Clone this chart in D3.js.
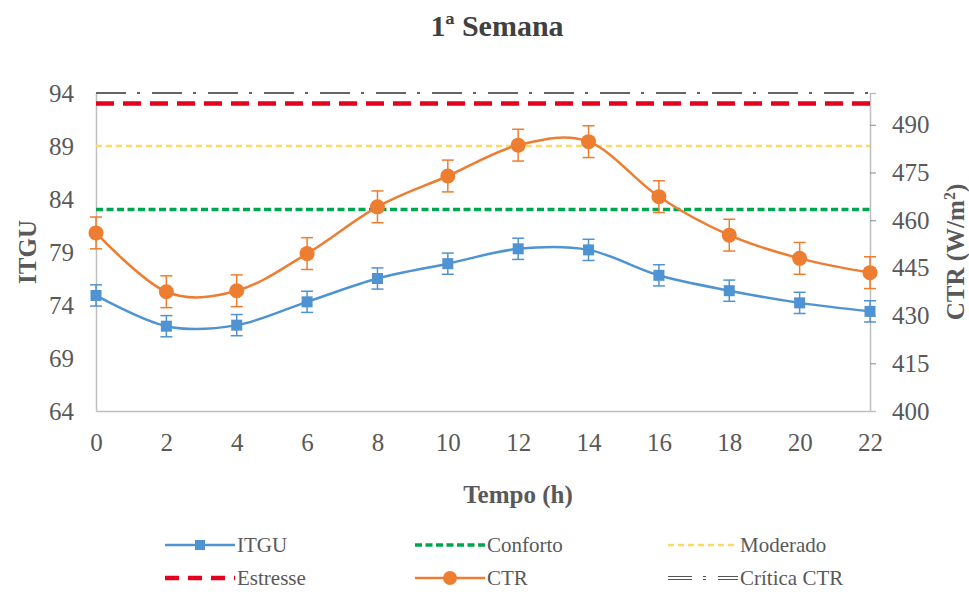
<!DOCTYPE html>
<html>
<head>
<meta charset="utf-8">
<script src="https://cdn.jsdelivr.net/npm/d3@7"></script>
<style>
  html, body { margin: 0; padding: 0; background: #fff; }
  svg { display: block; }
</style>
</head>
<body>
<svg id="chart" width="969" height="598"></svg>
<script>
// ---------- data ----------
const hours = ["0", "2", "4", "6", "8", "10", "12", "14", "16", "18", "20", "22"];
const itgu = [74.9, 72.0, 72.1, 74.3, 76.5, 77.9, 79.3, 79.2, 76.8, 75.35, 74.2, 73.4];
const itguErr = [1.0, 1.0, 1.0, 1.0, 1.0, 1.0, 1.0, 1.0, 1.0, 1.0, 1.0, 1.0];
const ctr = [456.0, 437.5, 437.8, 449.5, 464.2, 473.9, 483.6, 484.7, 467.4, 455.3, 448.0, 443.5];
const ctrErr = [5, 5, 5, 5, 5, 5, 5, 5, 5, 5, 5, 5];
const leftTicks = [64, 69, 74, 79, 84, 89, 94];
const rightTicks = [400, 415, 430, 445, 460, 475, 490];
const conforto = 83;
const moderado = 89;
const estresse = 93;
const criticaCTR = 500;

const FONT = "'Liberation Serif', 'DejaVu Serif', serif";
const svg = d3.select("#chart");
const X0 = 96, X1 = 870, YB = 411, YT = 93;
const textColor = "#595959";

const x = d3.scalePoint().domain(hours).range([X0, X1]);
const yL = d3.scaleLinear().domain([64, 94]).range([YB, YT]);
const yR = d3.scaleLinear().domain([400, 500]).range([YB, YT]);

// ---------- title ----------
svg.append("text").attr("x", 497).attr("y", 36).attr("text-anchor", "middle")
  .attr("font-size", 30).attr("font-weight", "bold").attr("fill", "#404040")
  .text("1ª Semana");

// ---------- axes ----------
const axisColor = "#BFBFBF";
const gL = svg.append("g").attr("transform", `translate(${X0},0)`)
  .call(d3.axisLeft(yL).tickValues(leftTicks).tickSize(0).tickPadding(22));
const gR = svg.append("g").attr("transform", `translate(${X1},0)`)
  .call(d3.axisRight(yR).tickValues(rightTicks).tickSize(6).tickPadding(16));
const gB = svg.append("g").attr("transform", `translate(0,${YB})`)
  .call(d3.axisBottom(x).tickSize(0).tickPadding(22));
[gL, gR, gB].forEach(g => {
  g.select(".domain").attr("stroke", axisColor).attr("stroke-width", 1.5);
  g.selectAll(".tick line").attr("stroke", "#9a9a9a").attr("stroke-width", 1.2);
  g.selectAll(".tick text").attr("fill", textColor).attr("font-size", 25);
});
gR.selectAll(".tick").filter(d => d === 400).select("line").remove();
gB.selectAll(".tick text").attr("dy", "0.71em");

// axis titles
svg.append("text").attr("transform", "translate(36,252) rotate(-90)")
  .attr("text-anchor", "middle").attr("font-size", 25).attr("font-weight", "bold")
  .attr("fill", textColor).text("ITGU");
const rt = svg.append("text").attr("transform", "translate(964,252) rotate(-90)")
  .attr("text-anchor", "middle").attr("font-size", 25).attr("font-weight", "bold")
  .attr("fill", textColor);
rt.append("tspan").text("CTR (W/m");
rt.append("tspan").attr("font-size", 16).attr("dy", -9).text("2");
rt.append("tspan").attr("dy", 9).text(")");
svg.append("text").attr("x", 518).attr("y", 503).attr("text-anchor", "middle")
  .attr("font-size", 25).attr("font-weight", "bold").attr("fill", textColor)
  .text("Tempo (h)");

// ---------- reference lines ----------
const refs = [
  { v: yL(conforto), color: "#00A64F", w: 3.5, dash: "7,3.5" },
  { v: yL(moderado), color: "#FFD966", w: 2.5, dash: "6,4" },
  { v: yL(estresse), color: "#E5001E", w: 4.5, dash: "18,9" }
];
refs.forEach(r => {
  svg.append("line").attr("x1", X0).attr("x2", X1).attr("y1", r.v).attr("y2", r.v)
    .attr("stroke", r.color).attr("stroke-width", r.w).attr("stroke-dasharray", r.dash);
});
// Crítica CTR (dash-dot)
svg.append("line").attr("x1", X0).attr("x2", X1)
  .attr("y1", yR(criticaCTR)).attr("y2", yR(criticaCTR))
  .attr("stroke", "#333").attr("stroke-width", 1.6).attr("stroke-dasharray", "30,11,3,12");

// ---------- series ----------
const curve = d3.curveCardinal.tension(0);
function drawSeries(vals, errs, yScale, color, marker) {
  const line = d3.line().x((d, i) => x(hours[i])).y(d => yScale(d)).curve(curve);
  svg.append("path").datum(vals).attr("d", line).attr("fill", "none")
    .attr("stroke", color).attr("stroke-width", 2.5);
  const g = svg.append("g");
  vals.forEach((v, i) => {
    const cx = x(hours[i]);
    const yt = yScale(v + errs[i]), yb = yScale(v - errs[i]);
    g.append("line").attr("x1", cx).attr("x2", cx).attr("y1", yt).attr("y2", yb)
      .attr("stroke", color).attr("stroke-width", 1.5);
    [yt, yb].forEach(yy => g.append("line").attr("x1", cx - 6).attr("x2", cx + 6)
      .attr("y1", yy).attr("y2", yy).attr("stroke", color).attr("stroke-width", 1.5));
    if (marker === "square") {
      g.append("rect").attr("x", cx - 5.5).attr("y", yScale(v) - 5.5)
        .attr("width", 11).attr("height", 11).attr("fill", color);
    } else {
      g.append("circle").attr("cx", cx).attr("cy", yScale(v)).attr("r", 7.5).attr("fill", color);
    }
  });
}
const blue = "#4F93D2", orange = "#ED7D31";
drawSeries(itgu, itguErr, yL, blue, "square");
drawSeries(ctr, ctrErr, yR, orange, "circle");

// ---------- legend ----------
const legend = [
  { name: "ITGU", x: 165, y: 545, type: "square", color: blue },
  { name: "Conforto", x: 415, y: 545, type: "dash", color: "#00A64F", w: 3.5, dash: "7,3.5" },
  { name: "Moderado", x: 668, y: 545, type: "dash", color: "#FFD966", w: 2.5, dash: "6,4" },
  { name: "Estresse", x: 165, y: 578, type: "dash", color: "#E5001E", w: 4.5, dash: "14,9" },
  { name: "CTR", x: 415, y: 578, type: "circle", color: orange },
  { name: "Crítica CTR", x: 668, y: 578, type: "crit", color: "#555" }
];
legend.forEach(l => {
  const g = svg.append("g");
  const L = 70;
  if (l.type === "square" || l.type === "circle") {
    g.append("line").attr("x1", l.x).attr("x2", l.x + L).attr("y1", l.y).attr("y2", l.y)
      .attr("stroke", l.color).attr("stroke-width", 2.5);
    if (l.type === "square") g.append("rect").attr("x", l.x + L / 2 - 5).attr("y", l.y - 5)
      .attr("width", 10).attr("height", 10).attr("fill", l.color);
    else g.append("circle").attr("cx", l.x + L / 2).attr("cy", l.y).attr("r", 7).attr("fill", l.color);
  } else if (l.type === "dash") {
    g.append("line").attr("x1", l.x).attr("x2", l.x + L).attr("y1", l.y).attr("y2", l.y)
      .attr("stroke", l.color).attr("stroke-width", l.w).attr("stroke-dasharray", l.dash);
  } else {
    [-1.5, 1.5].forEach(o => g.append("line").attr("x1", l.x).attr("x2", l.x + L)
      .attr("y1", l.y + o).attr("y2", l.y + o).attr("stroke", l.color).attr("stroke-width", 1)
      .attr("stroke-dasharray", "24,11,3,12"));
  }
  g.append("text").attr("x", l.x + L + 2).attr("y", l.y).attr("dy", "0.35em")
    .attr("font-size", 21).attr("fill", textColor).text(l.name);
});

// apply font inline on every text
svg.selectAll("text").style("font-family", FONT);
</script>
</body>
</html>
